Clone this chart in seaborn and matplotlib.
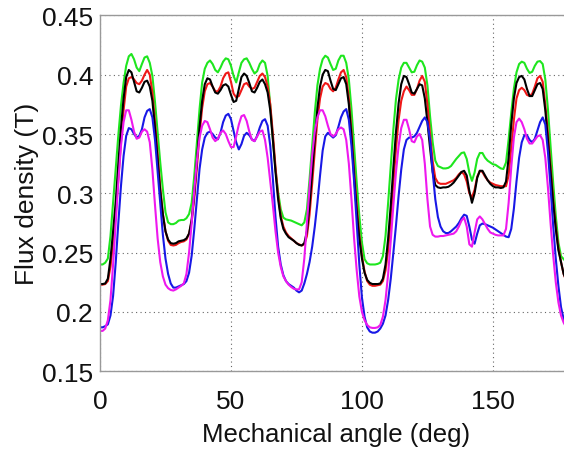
"""
Flux density vs mechanical angle for five cases.
Writes out.png.
"""
import pandas as pd
import matplotlib
matplotlib.use('Agg')
import matplotlib.pyplot as plt
import seaborn as sns

# angle grid (deg), values at 1 deg steps
angle = list(range(0, 181))

flux_green = [
    0.240, 0.240, 0.2415, 0.245, 0.264, 0.292, 0.320, 0.349, 0.374, 0.393,
    0.4075, 0.4155, 0.4175, 0.413, 0.406, 0.403, 0.409, 0.4145, 0.4155, 0.410,
    0.399, 0.377, 0.351, 0.326, 0.3035, 0.284, 0.2755, 0.274, 0.274, 0.275,
    0.277, 0.2775, 0.2775, 0.279, 0.2825, 0.292, 0.315, 0.343, 0.371, 0.3935,
    0.405, 0.410, 0.412, 0.409, 0.404, 0.402, 0.406, 0.411, 0.4138, 0.413,
    0.4075, 0.399, 0.3935, 0.402, 0.410, 0.413, 0.4138, 0.410, 0.405, 0.401,
    0.403, 0.409, 0.412, 0.410, 0.399, 0.374, 0.346, 0.320, 0.301, 0.2865,
    0.2795, 0.278, 0.2775, 0.277, 0.276, 0.275, 0.274, 0.273, 0.2755, 0.2865,
    0.312, 0.340, 0.368, 0.391, 0.405, 0.413, 0.416, 0.4145, 0.409, 0.404,
    0.405, 0.412, 0.416, 0.416, 0.410, 0.396, 0.371, 0.340, 0.309, 0.281,
    0.2585, 0.2445, 0.241, 0.240, 0.240, 0.240, 0.2405, 0.2415, 0.247, 0.264,
    0.292, 0.323, 0.354, 0.3795, 0.396, 0.406, 0.410, 0.410, 0.406, 0.402,
    0.4025, 0.408, 0.412, 0.411, 0.406, 0.391, 0.365, 0.343, 0.3275, 0.323,
    0.322, 0.321, 0.321, 0.3215, 0.323, 0.326, 0.329, 0.3315, 0.334, 0.3345,
    0.329, 0.3175, 0.3105, 0.3175, 0.329, 0.334, 0.334, 0.330, 0.3275, 0.326,
    0.3245, 0.324, 0.3225, 0.321, 0.3205, 0.326, 0.3455, 0.368, 0.388, 0.402,
    0.409, 0.411, 0.410, 0.405, 0.4015, 0.4025, 0.4075, 0.411, 0.4115, 0.409,
    0.396, 0.371, 0.340, 0.309, 0.281, 0.2585, 0.247, 0.2445, 0.242, 0.241,
    0.240,
]

flux_red = [
    0.223, 0.223, 0.2235, 0.226, 0.238, 0.258, 0.283, 0.312, 0.343, 0.370,
    0.390, 0.397, 0.398, 0.396, 0.393, 0.392, 0.395, 0.400, 0.404, 0.400,
    0.385, 0.360, 0.332, 0.305, 0.283, 0.268, 0.260, 0.2565, 0.256, 0.2565,
    0.258, 0.259, 0.2595, 0.261, 0.266, 0.276, 0.296, 0.322, 0.350, 0.372,
    0.386, 0.392, 0.393, 0.390, 0.386, 0.386, 0.390, 0.397, 0.401, 0.402,
    0.394, 0.384, 0.381, 0.382, 0.387, 0.392, 0.393, 0.390, 0.388, 0.389,
    0.394, 0.399, 0.401, 0.398, 0.390, 0.375, 0.350, 0.322, 0.298, 0.281,
    0.272, 0.267, 0.264, 0.262, 0.260, 0.258, 0.257, 0.256, 0.257, 0.264,
    0.282, 0.308, 0.336, 0.362, 0.380, 0.390, 0.393, 0.392, 0.388, 0.386,
    0.389, 0.396, 0.402, 0.404, 0.398, 0.380, 0.352, 0.320, 0.290, 0.265,
    0.247, 0.234, 0.226, 0.223, 0.222, 0.222, 0.2225, 0.223, 0.226, 0.235,
    0.252, 0.278, 0.308, 0.338, 0.362, 0.378, 0.386, 0.390, 0.387, 0.383,
    0.383, 0.388, 0.395, 0.399, 0.394, 0.375, 0.350, 0.327, 0.313, 0.309,
    0.308, 0.308, 0.308, 0.309, 0.310, 0.311, 0.313, 0.316, 0.318, 0.316,
    0.310, 0.300, 0.2965, 0.303, 0.314, 0.319, 0.318, 0.314, 0.311, 0.309,
    0.308, 0.307, 0.3065, 0.306, 0.306, 0.306, 0.315, 0.338, 0.362, 0.380,
    0.387, 0.389, 0.387, 0.383, 0.382, 0.384, 0.390, 0.397, 0.399, 0.394,
    0.375, 0.350, 0.322, 0.295, 0.272, 0.254, 0.242, 0.232, 0.226, 0.223,
    0.223,
]

flux_black = [
    0.2235, 0.2235, 0.224, 0.228, 0.245, 0.268, 0.293, 0.325, 0.355, 0.380,
    0.398, 0.404, 0.402, 0.394, 0.386, 0.385, 0.389, 0.394, 0.395, 0.390,
    0.378, 0.355, 0.328, 0.302, 0.282, 0.268, 0.261, 0.258, 0.2575, 0.258,
    0.2595, 0.260, 0.2605, 0.262, 0.266, 0.278, 0.300, 0.328, 0.356, 0.378,
    0.392, 0.397, 0.396, 0.390, 0.385, 0.384, 0.387, 0.391, 0.392, 0.390,
    0.383, 0.377, 0.378, 0.388, 0.398, 0.401, 0.399, 0.393, 0.386, 0.385,
    0.389, 0.394, 0.396, 0.392, 0.385, 0.370, 0.345, 0.318, 0.295, 0.279,
    0.270, 0.266, 0.263, 0.2615, 0.260, 0.258, 0.2565, 0.256, 0.258, 0.268,
    0.290, 0.318, 0.346, 0.372, 0.390, 0.400, 0.404, 0.403, 0.395, 0.388,
    0.387, 0.392, 0.397, 0.398, 0.392, 0.375, 0.348, 0.315, 0.285, 0.262,
    0.245, 0.233, 0.227, 0.2245, 0.2235, 0.2235, 0.2235, 0.224, 0.228, 0.240,
    0.262, 0.290, 0.322, 0.352, 0.376, 0.392, 0.399, 0.398, 0.392, 0.385,
    0.384, 0.388, 0.392, 0.391, 0.380, 0.360, 0.338, 0.318, 0.307, 0.305,
    0.3045, 0.305, 0.305, 0.3055, 0.307, 0.309, 0.312, 0.315, 0.318, 0.319,
    0.315, 0.302, 0.292, 0.300, 0.313, 0.319, 0.319, 0.315, 0.311, 0.308,
    0.306, 0.305, 0.305, 0.3045, 0.305, 0.310, 0.330, 0.358, 0.380, 0.393,
    0.398, 0.399, 0.396, 0.388, 0.382, 0.382, 0.387, 0.392, 0.393, 0.388,
    0.370, 0.345, 0.318, 0.292, 0.270, 0.252, 0.242, 0.232, 0.227, 0.224,
    0.2235,
]

flux_blue = [
    0.187, 0.187, 0.188, 0.1895, 0.197, 0.2135, 0.2415, 0.275, 0.306, 0.3315,
    0.3485, 0.355, 0.354, 0.350, 0.347, 0.3485, 0.354, 0.364, 0.3695, 0.371,
    0.364, 0.345, 0.318, 0.290, 0.265, 0.245, 0.232, 0.224, 0.2205, 0.2205,
    0.2215, 0.2225, 0.2235, 0.226, 0.233, 0.2475, 0.270, 0.295, 0.3205, 0.337,
    0.347, 0.351, 0.352, 0.350, 0.347, 0.3455, 0.351, 0.360, 0.3655, 0.367,
    0.3625, 0.3525, 0.343, 0.337, 0.3415, 0.3485, 0.351, 0.349, 0.3455, 0.344,
    0.3485, 0.3555, 0.361, 0.3625, 0.357, 0.340, 0.312, 0.280, 0.255, 0.240,
    0.231, 0.226, 0.2235, 0.222, 0.2205, 0.218, 0.2165, 0.218, 0.224, 0.232,
    0.242, 0.255, 0.272, 0.292, 0.315, 0.336, 0.348, 0.351, 0.349, 0.347,
    0.349, 0.356, 0.364, 0.369, 0.371, 0.362, 0.340, 0.310, 0.275, 0.240,
    0.212, 0.196, 0.187, 0.1835, 0.1825, 0.1825, 0.1835, 0.186, 0.190, 0.197,
    0.210, 0.228, 0.250, 0.273, 0.298, 0.320, 0.337, 0.345, 0.347, 0.347,
    0.348, 0.351, 0.356, 0.361, 0.364, 0.360, 0.345, 0.318, 0.295, 0.280,
    0.272, 0.268, 0.2665, 0.2665, 0.268, 0.270, 0.272, 0.275, 0.279, 0.282,
    0.281, 0.272, 0.261, 0.2575, 0.266, 0.273, 0.2745, 0.274, 0.273, 0.272,
    0.271, 0.2695, 0.268, 0.2665, 0.265, 0.2635, 0.263, 0.270, 0.287, 0.310,
    0.330, 0.343, 0.349, 0.349, 0.345, 0.343, 0.346, 0.353, 0.360, 0.364,
    0.358, 0.335, 0.305, 0.273, 0.245, 0.222, 0.204, 0.194, 0.189, 0.187,
    0.187,
]

flux_magenta = [
    0.184, 0.184, 0.186, 0.193, 0.210, 0.240, 0.275, 0.310, 0.340, 0.360,
    0.370, 0.370, 0.362, 0.352, 0.346, 0.347, 0.352, 0.354, 0.352, 0.343,
    0.320, 0.290, 0.262, 0.242, 0.230, 0.223, 0.220, 0.2185, 0.218, 0.219,
    0.2205, 0.222, 0.224, 0.232, 0.250, 0.275, 0.303, 0.328, 0.347, 0.357,
    0.361, 0.360, 0.354, 0.347, 0.344, 0.346, 0.351, 0.353, 0.350, 0.344,
    0.339, 0.339, 0.348, 0.358, 0.365, 0.366, 0.361, 0.352, 0.345, 0.344,
    0.348, 0.352, 0.353, 0.345, 0.330, 0.310, 0.290, 0.268, 0.250, 0.238,
    0.230, 0.226, 0.223, 0.221, 0.2195, 0.219, 0.219, 0.225, 0.245, 0.275,
    0.305, 0.332, 0.352, 0.364, 0.370, 0.370, 0.365, 0.357, 0.350, 0.348,
    0.350, 0.354, 0.3555, 0.354, 0.345, 0.325, 0.295, 0.262, 0.235, 0.213,
    0.200, 0.193, 0.189, 0.187, 0.1865, 0.1865, 0.187, 0.189, 0.196, 0.210,
    0.232, 0.260, 0.290, 0.318, 0.340, 0.355, 0.362, 0.362, 0.354, 0.344,
    0.343, 0.348, 0.350, 0.345, 0.325, 0.295, 0.272, 0.265, 0.2635, 0.2635,
    0.264, 0.264, 0.2645, 0.265, 0.2655, 0.266, 0.268, 0.272, 0.277, 0.2795,
    0.272, 0.257, 0.255, 0.267, 0.278, 0.2805, 0.278, 0.274, 0.270, 0.267,
    0.266, 0.265, 0.2645, 0.2645, 0.2645, 0.270, 0.292, 0.322, 0.347, 0.360,
    0.363, 0.360, 0.354, 0.346, 0.342, 0.342, 0.345, 0.348, 0.349, 0.345,
    0.330, 0.305, 0.275, 0.248, 0.225, 0.208, 0.197, 0.191, 0.187, 0.185,
    0.184,
]

cases = ['green', 'red', 'black', 'blue', 'magenta']
colors = {'green': '#1ee61e', 'red': '#f01818', 'black': '#000000',
          'blue': '#1818e6', 'magenta': '#ee18ee'}
y_ticks = [0.15, 0.2, 0.25, 0.3, 0.35, 0.4, 0.45]
y_tick_labels = ['0.15', '0.2', '0.25', '0.3', '0.35', '0.4', '0.45']
x_ticks = [0, 50, 100, 150]

df = pd.DataFrame({
    'angle': angle * 5,
    'flux': flux_green + flux_red + flux_black + flux_blue + flux_magenta,
    'case': [c for c in cases for _ in angle],
})

sns.set_style('white')
plt.rcParams['font.family'] = ['Liberation Sans', 'DejaVu Sans']

fig = plt.figure(figsize=(5.64, 4.52), dpi=100)
ax = fig.add_axes([0.1773, 0.1765, 0.836, 0.7872])
sns.lineplot(data=df, x='angle', y='flux', hue='case', hue_order=cases,
             palette=colors, linewidth=1.5, legend=False, ax=ax,
             estimator=None, sort=False)

ax.set_xlim(0, 180)
ax.set_ylim(0.15, 0.45)
ax.set_xticks(x_ticks)
ax.set_xticklabels([str(t) for t in x_ticks])
ax.set_yticks(y_ticks)
ax.set_yticklabels(y_tick_labels)
ax.grid(True, linestyle=(0, (1, 3)), color='#666666', linewidth=0.8)
for side in ['left', 'bottom', 'top']:
    ax.spines[side].set_color('#999999')
    ax.spines[side].set_linewidth(1.0)
ax.spines['right'].set_visible(False)
ax.tick_params(direction='in', length=4, color='#999999', labelsize=19,
               labelcolor='#111111')
ax.tick_params(axis='y', pad=5)
ax.tick_params(axis='x', pad=13)
ax.set_xlabel('Mechanical angle (deg)', fontsize=18.5, labelpad=6, color='#111111')
ax.set_ylabel('Flux density (T)', fontsize=19, labelpad=2, color='#111111')

fig.savefig('out.png', dpi=100)
